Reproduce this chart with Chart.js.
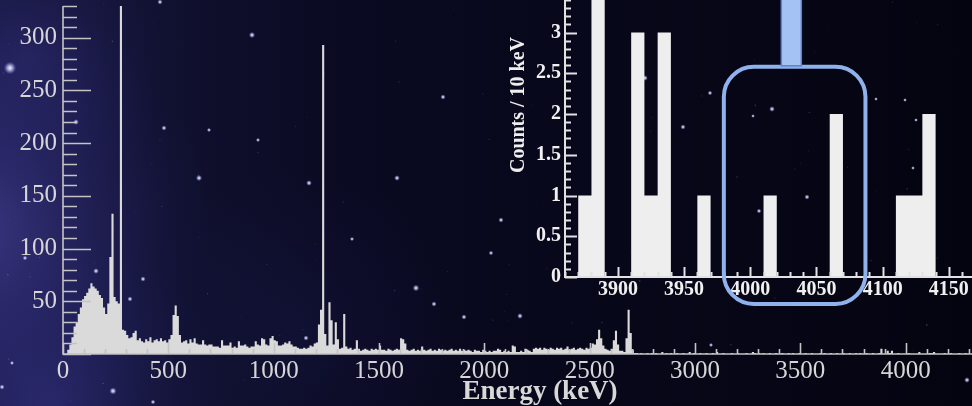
<!DOCTYPE html>
<html>
<head>
<meta charset="utf-8">
<script src="https://cdn.jsdelivr.net/npm/chart.js@4.4.1/dist/chart.umd.min.js"></script>
<style>
  html, body { margin: 0; padding: 0; background: #06061a; overflow: hidden; }
  #stage { position: relative; width: 972px; height: 406px; }
  #stage canvas { position: absolute; left: 0; top: 0; }
</style>
</head>
<body>
<div id="stage">
  <canvas id="spectrum" width="972" height="406"></canvas>
  <canvas id="zoom" width="972" height="406"></canvas>
</div>
<script>
// energy spectrum, 10 keV bins starting at 0 keV
const binWidth = 10;
const counts = [
  0, 0, 4, 9, 16, 26, 30, 38, 44, 52,          // 0
  55, 58, 62, 67, 64, 62, 60, 56, 53, 44,      // 100
  38, 48, 92, 133, 54, 50, 48, 420, 23, 22,    // 200
  18, 15, 16, 20, 22, 13, 15, 12, 11, 14,      // 300
  12, 16, 11, 13, 14, 12, 15, 12, 13, 11,      // 400
  14, 18, 37, 46, 36, 18, 11, 12, 13, 10,      // 500
  14, 11, 15, 10, 9, 9, 13, 9, 8, 9,           // 600
  9, 7, 7, 7, 6, 13, 8, 8, 8, 11,              // 700
  6, 7, 6, 12, 8, 8, 9, 7, 6, 7,               // 800
  7, 12, 9, 8, 15, 14, 9, 8, 15, 17,           // 900
  13, 12, 8, 8, 9, 11, 10, 12, 9, 7,           // 1000
  7, 6, 5, 5, 6, 5, 6, 8, 7, 10,               // 1100
  11, 28, 42, 293, 19, 8, 49, 32, 9, 30,       // 1200
  14, 5, 6, 38, 7, 5, 6, 4, 5, 13,             // 1300
  5, 3, 4, 5, 4, 3, 5, 4, 5, 4,                // 1400
  8, 4, 4, 3, 5, 4, 3, 4, 5, 4,                // 1500
  15, 14, 10, 4, 3, 4, 5, 3, 4, 3,             // 1600
  7, 4, 3, 4, 5, 3, 4, 3, 5, 4,                // 1700
  3, 4, 3, 4, 5, 3, 4, 3, 5, 3,                // 1800
  4, 3, 4, 3, 2, 4, 3, 3, 2, 4,                // 1900
  3, 2, 3, 2, 3, 3, 5, 4, 2, 3,                // 2000
  2, 3, 2, 8, 7, 2, 2, 3, 2, 5,                // 2100
  4, 3, 2, 5, 6, 5, 6, 4, 6, 5,                // 2200
  4, 6, 5, 4, 6, 5, 6, 4, 5, 7,                // 2300
  4, 5, 6, 4, 5, 6, 5, 4, 6, 5,                // 2400
  6, 10, 9, 14, 23, 15, 8, 5, 4, 3,            // 2500
  5, 13, 22, 9, 3, 3, 2, 15, 42, 20,           // 2600
  4, 1, 1, 0, 1, 0, 0, 1, 0, 1,                // 2700
  0, 1, 0, 0, 2, 0, 1, 0, 1, 0,                // 2800
  0, 1, 0, 0, 1, 0, 0, 2, 0, 1,                // 2900
  0, 0, 1, 0, 0, 1, 0, 0, 1, 0,                // 3000
  2, 0, 0, 1, 0, 0, 0, 1, 0, 0,                // 3100
  1, 0, 0, 0, 1, 0, 0, 2, 1, 0,                // 3200
  1, 0, 1, 0, 0, 1, 0, 0, 1, 0,                // 3300
  0, 1, 0, 0, 1, 0, 1, 0, 0, 1,                // 3400
  0, 0, 1, 0, 0, 1, 0, 0, 0, 1,                // 3500
  0, 1, 0, 0, 1, 0, 0, 1, 0, 0,                // 3600
  1, 0, 0, 1, 0, 0, 1, 0, 1, 0,                // 3700
  0, 1, 0, 0, 1, 0, 0, 1, 5, 0,                // 3800
  0, 3, 1, 3, 0, 0, 1, 0, 0, 0,                // 3900
  0, 1, 0, 0, 0, 0, 2, 0, 0, 0,                // 4000
  0, 1, 1, 2, 0, 0, 0, 0, 1, 0,                // 4100
  0, 1, 0, 0, 0, 1, 0, 0, 1, 0,                // 4200
  0                                            // 4300
];

const energyLabels = [0, 500, 1000, 1500, 2000, 2500, 3000, 3500, 4000];
const countLabels = [50, 100, 150, 200, 250, 300];

// zoomed window on the high energy end
const zoomRange = [3860, 4170];
const zoomEnergyLabels = [3900, 3950, 4000, 4050, 4100, 4150];
const zoomCountLabels = [0, 0.5, 1, 1.5, 2, 2.5, 3];
const signalWindow = [3980, 4087];
const pointerAt = 4031;

function histPoints(first, values) {
  const pts = values.map((c, i) => ({ x: first + i * binWidth, y: c }));
  pts.push({ x: first + values.length * binWidth, y: 0 });
  return pts;
}

const fmt = v => String(v);

// axis lines, inward ticks and labels in the ROOT style
function axisPainter(spec) {
  return {
    id: spec.id,
    afterDatasetsDraw(chart) {
      const { ctx, chartArea: a, scales: { x, y } } = chart;
      ctx.save();
      ctx.strokeStyle = spec.tickColor;
      ctx.lineWidth = spec.lineWidth;
      ctx.beginPath();
      ctx.moveTo(a.left, a.top);
      ctx.lineTo(a.left, a.bottom);
      ctx.lineTo(a.right, a.bottom);
      ctx.stroke();

      ctx.beginPath();
      const nx0 = Math.ceil(x.min / spec.xMinor), nx1 = Math.floor(x.max / spec.xMinor);
      for (let k = nx0; k <= nx1; k++) {
        const v = k * spec.xMinor;
        const major = Math.abs(v / spec.xMajor - Math.round(v / spec.xMajor)) < 1e-6;
        const px = Math.round(x.getPixelForValue(v)) + 0.5;
        ctx.moveTo(px, a.bottom);
        ctx.lineTo(px, a.bottom - (major ? spec.xMajorLen : spec.xMinorLen));
      }
      const ny1 = Math.floor(y.max / spec.yMinor + 1e-6);
      for (let k = 0; k <= ny1; k++) {
        const v = k * spec.yMinor;
        const major = Math.abs(v / spec.yMajor - Math.round(v / spec.yMajor)) < 1e-6;
        const py = Math.round(y.getPixelForValue(v)) + 0.5;
        ctx.moveTo(a.left, py);
        ctx.lineTo(a.left + (major ? spec.yMajorLen : spec.yMinorLen), py);
      }
      ctx.stroke();

      ctx.fillStyle = spec.labelColor;
      ctx.font = spec.labelFont;
      ctx.textAlign = 'center';
      ctx.textBaseline = 'middle';
      spec.xLabels.forEach(v => ctx.fillText(fmt(v), x.getPixelForValue(v), a.bottom + spec.xLabelGap));
      ctx.textAlign = 'right';
      spec.yLabels.forEach(v => ctx.fillText(fmt(v), a.left - spec.yLabelGap, y.getPixelForValue(v)));
      ctx.restore();
    }
  };
}

// night sky behind the plot
const starField = [
  [10, 68, 2.6], [252, 35, 1.3], [76, 122, 1.2], [164, 128, 1.1], [199, 178, 1.3],
  [309, 183, 1.2], [209, 130, 0.9], [258, 140, 0.9], [96, 271, 1.2], [143, 279, 1.1],
  [130, 299, 1.1], [113, 391, 1.5], [306, 338, 1.1], [25, 258, 1.0], [501, 220, 1.1],
  [491, 253, 1.0], [416, 288, 1.4], [434, 304, 1.1], [464, 317, 1.1], [520, 316, 1.2],
  [352, 239, 0.9], [443, 97, 1.1], [397, 178, 1.2], [160, 2, 1.1], [645, 78, 1.2],
  [683, 127, 1.1], [710, 93, 1.0], [772, 109, 1.2], [753, 116, 0.8], [807, 197, 1.1],
  [759, 211, 1.0], [916, 120, 0.8], [913, 168, 0.8], [876, 99, 0.8], [967, 380, 1.2],
  [2, 387, 1.1], [153, 402, 1.0], [12, 363, 0.9], [905, 100, 0.8], [711, 345, 0.9]
];

const skyBackdrop = {
  id: 'skyBackdrop',
  beforeDraw(chart) {
    const { ctx, width, height } = chart;
    ctx.save();
    const base = ctx.createLinearGradient(0, 0, width, 0);
    base.addColorStop(0, '#17173e');
    base.addColorStop(0.35, '#0a0a22');
    base.addColorStop(1, '#040410');
    ctx.fillStyle = base;
    ctx.fillRect(0, 0, width, height);
    const haze = (cx, cy, r, col) => {
      const g = ctx.createRadialGradient(cx, cy, 0, cx, cy, r);
      g.addColorStop(0, col);
      g.addColorStop(1, 'rgba(40,40,120,0)');
      ctx.fillStyle = g;
      ctx.fillRect(0, 0, width, height);
    };
    haze(-30, 230, 240, 'rgba(85,76,180,0.60)');
    haze(50, 410, 180, 'rgba(62,60,155,0.45)');
    haze(30, 60, 140, 'rgba(62,54,145,0.35)');
    haze(300, 330, 160, 'rgba(40,40,110,0.18)');

    let seed = 20240611;
    const rnd = () => (seed = (seed * 16807) % 2147483647) / 2147483647;
    for (let i = 0; i < 120; i++) {
      const sx = rnd() * width, sy = rnd() * height, r = 0.35 + rnd() * 0.5;
      ctx.fillStyle = `rgba(160,160,255,${(0.08 + rnd() * 0.25).toFixed(2)})`;
      ctx.beginPath();
      ctx.arc(sx, sy, r, 0, Math.PI * 2);
      ctx.fill();
    }
    starField.forEach(([sx, sy, r]) => {
      const g = ctx.createRadialGradient(sx, sy, 0, sx, sy, r * 2.4);
      g.addColorStop(0, 'rgba(255,255,255,0.95)');
      g.addColorStop(0.4, 'rgba(220,220,255,0.7)');
      g.addColorStop(1, 'rgba(140,140,255,0)');
      ctx.fillStyle = g;
      ctx.beginPath();
      ctx.arc(sx, sy, r * 2.4, 0, Math.PI * 2);
      ctx.fill();
    });
    ctx.restore();
  }
};

const energyTitle = {
  id: 'energyTitle',
  afterDraw(chart) {
    const { ctx } = chart;
    ctx.save();
    ctx.fillStyle = '#d8d8d8';
    ctx.font = 'bold 27px "Liberation Serif", "DejaVu Serif", serif';
    ctx.textAlign = 'center';
    ctx.textBaseline = 'middle';
    ctx.fillText('Energy (keV)', 540, 392);
    ctx.restore();
  }
};

const zoomDecor = {
  id: 'zoomDecor',
  afterDraw(chart) {
    const { ctx, scales: { x, y } } = chart;
    ctx.save();
    // y axis title
    ctx.fillStyle = '#eeeeee';
    ctx.font = 'bold 20px "Liberation Serif", "DejaVu Serif", serif';
    ctx.textAlign = 'center';
    ctx.textBaseline = 'middle';
    ctx.translate(519, 105);
    ctx.rotate(-Math.PI / 2);
    ctx.fillText('Counts / 10 keV', 0, 0);
    ctx.restore();

    // highlighted window
    const l = x.getPixelForValue(signalWindow[0]);
    const r = x.getPixelForValue(signalWindow[1]);
    const t = y.getPixelForValue(2.58);
    const b = y.getPixelForValue(-0.33);
    const rad = 30;
    ctx.save();
    ctx.strokeStyle = '#8fb2ec';
    ctx.lineWidth = 4;
    ctx.beginPath();
    ctx.moveTo(l + rad, t);
    ctx.arcTo(r, t, r, b, rad);
    ctx.arcTo(r, b, l, b, rad);
    ctx.arcTo(l, b, l, t, rad);
    ctx.arcTo(l, t, r, t, rad);
    ctx.closePath();
    ctx.stroke();

    const px = x.getPixelForValue(pointerAt);
    ctx.fillStyle = '#a4c2f4';
    ctx.strokeStyle = '#5f82c8';
    ctx.lineWidth = 1.5;
    ctx.fillRect(px - 10, -2, 20, t + 1);
    ctx.strokeRect(px - 10, -2, 20, t + 1);
    ctx.restore();
  }
};

const baseOptions = {
  responsive: false,
  animation: false,
  events: [],
  plugins: { legend: { display: false }, tooltip: { enabled: false } },
  elements: { point: { radius: 0 } }
};

new Chart(document.getElementById('spectrum'), {
  type: 'line',
  data: {
    datasets: [{
      data: histPoints(0, counts),
      stepped: 'before',
      fill: 'origin',
      backgroundColor: '#dadada',
      borderWidth: 0,
      pointRadius: 0
    }]
  },
  options: {
    ...baseOptions,
    layout: { padding: { left: 63, right: 0, top: 6, bottom: 52 } },
    scales: {
      x: { type: 'linear', min: 0, max: 4315, display: false },
      y: { type: 'linear', min: 0, max: 330, display: false }
    }
  },
  plugins: [skyBackdrop, axisPainter({
    id: 'spectrumAxes',
    tickColor: '#c4c4c4', lineWidth: 1.6,
    xMinor: 100, xMajor: 500, xMinorLen: 5, xMajorLen: 11,
    yMinor: 10, yMajor: 50, yMinorLen: 14, yMajorLen: 28,
    labelColor: '#d6d6d6', labelFont: '25px "Liberation Serif", "DejaVu Serif", serif',
    xLabels: energyLabels, xLabelGap: 17,
    yLabels: countLabels, yLabelGap: 6
  }), energyTitle]
});

const zoomFirst = zoomRange[0] / binWidth;
const zoomLast = zoomRange[1] / binWidth;

new Chart(document.getElementById('zoom'), {
  type: 'line',
  data: {
    datasets: [{
      data: histPoints(zoomRange[0], counts.slice(zoomFirst, zoomLast)),
      stepped: 'before',
      fill: 'origin',
      backgroundColor: '#eeeeee',
      borderWidth: 0,
      pointRadius: 0
    }]
  },
  options: {
    ...baseOptions,
    layout: { padding: { left: 565, right: 0, top: 0, bottom: 129 } },
    scales: {
      x: { type: 'linear', min: zoomRange[0], max: 4167.5, display: false },
      y: { type: 'linear', min: 0, max: 3.4, display: false }
    }
  },
  plugins: [axisPainter({
    id: 'zoomAxes',
    tickColor: '#e2e2e2', lineWidth: 2,
    xMinor: 10, xMajor: 50, xMinorLen: 5, xMajorLen: 10,
    yMinor: 0.1, yMajor: 0.5, yMinorLen: 6, yMajorLen: 12,
    labelColor: '#f0f0f0', labelFont: 'bold 20px "Liberation Serif", "DejaVu Serif", serif',
    xLabels: zoomEnergyLabels, xLabelGap: 13,
    yLabels: zoomCountLabels, yLabelGap: 4
  }), zoomDecor]
});
</script>
</body>
</html>
